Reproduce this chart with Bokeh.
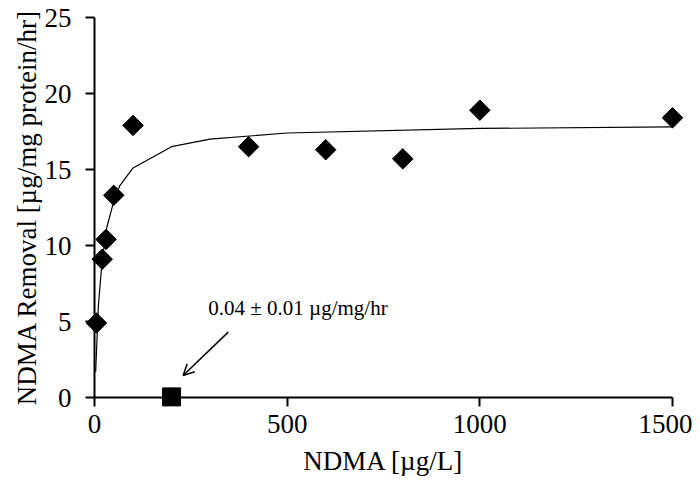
import math
from bokeh.plotting import figure
from bokeh.models import Range1d, FixedTicker, Arrow, OpenHead, Label
from bokeh.embed import file_html
from bokeh.resources import INLINE

# measured data (diamonds)
ndma_conc = [5, 20, 30, 50, 100, 400, 600, 800, 1000, 1500]
removal = [4.9, 9.1, 10.4, 13.3, 17.9, 16.5, 16.3, 15.7, 18.9, 18.4]

# control point (square)
ctrl_conc = [200]
ctrl_removal = [0.04]

# fitted curve
fit_conc = [3, 10, 20, 32, 50, 65, 100, 200, 300, 500, 1000, 1500]
fit_removal = [1.7, 6.0, 9.1, 11.2, 12.9, 13.9, 15.1, 16.5, 17.0, 17.4, 17.7, 17.8]

x_ticks = [0, 500, 1000, 1500]
y_ticks = [0, 5, 10, 15, 20, 25]

annot_text = "0.04 ± 0.01 µg/mg/hr"

FONT = "Liberation Serif"

p = figure(width=692, height=478, output_backend="svg", toolbar_location=None,
           x_range=Range1d(0, 1500), y_range=Range1d(0, 25),
           min_border_left=94, min_border_right=20, min_border_top=17, min_border_bottom=79)

p.outline_line_color = None
p.xgrid.visible = False
p.ygrid.visible = False
p.background_fill_color = "white"

p.line(fit_conc, fit_removal, line_color="black", line_width=1.2)
r1 = p.scatter(ndma_conc, removal, marker="square", size=14.5, angle=math.pi / 4,
               fill_color="black", line_color="black")
r2 = p.scatter(ctrl_conc, ctrl_removal, marker="square", size=18,
               fill_color="black", line_color="black")
r1.level = "overlay"
r2.level = "overlay"

p.xaxis.ticker = FixedTicker(ticks=x_ticks)
p.yaxis.ticker = FixedTicker(ticks=y_ticks)
for ax in (p.xaxis[0], p.yaxis[0]):
    ax.axis_line_width = 2
    ax.axis_line_color = "black"
    ax.major_tick_line_width = 2
    ax.major_tick_line_color = "black"
    ax.major_tick_out = 9
    ax.major_tick_in = 0
    ax.minor_tick_line_color = None
    ax.major_label_text_font = FONT
    ax.major_label_text_font_size = "27px"
    ax.major_label_text_color = "black"
    ax.axis_label_text_font = FONT
    ax.axis_label_text_font_size = "27px"
    ax.axis_label_text_font_style = "normal"
    ax.axis_label_text_color = "black"

p.xaxis.axis_label = "NDMA [µg/L]"
p.yaxis.axis_label = "NDMA Removal [µg/mg protein/hr]"
p.xaxis.major_label_standoff = 8
p.yaxis.major_label_standoff = 14
p.xaxis.axis_label_standoff = 10
p.yaxis.axis_label_standoff = 0

p.add_layout(Label(x=528, y=5.9, text=annot_text, text_font=FONT, text_font_size="21px",
                   text_align="center", text_baseline="alphabetic", text_color="black"))
p.add_layout(Arrow(end=OpenHead(size=11, line_width=1.5, line_color="black"),
                   x_start=347, y_start=4.3, x_end=230, y_end=1.45,
                   line_width=1.5, line_color="black"))

open("out.html", "w").write(file_html(p, INLINE))
